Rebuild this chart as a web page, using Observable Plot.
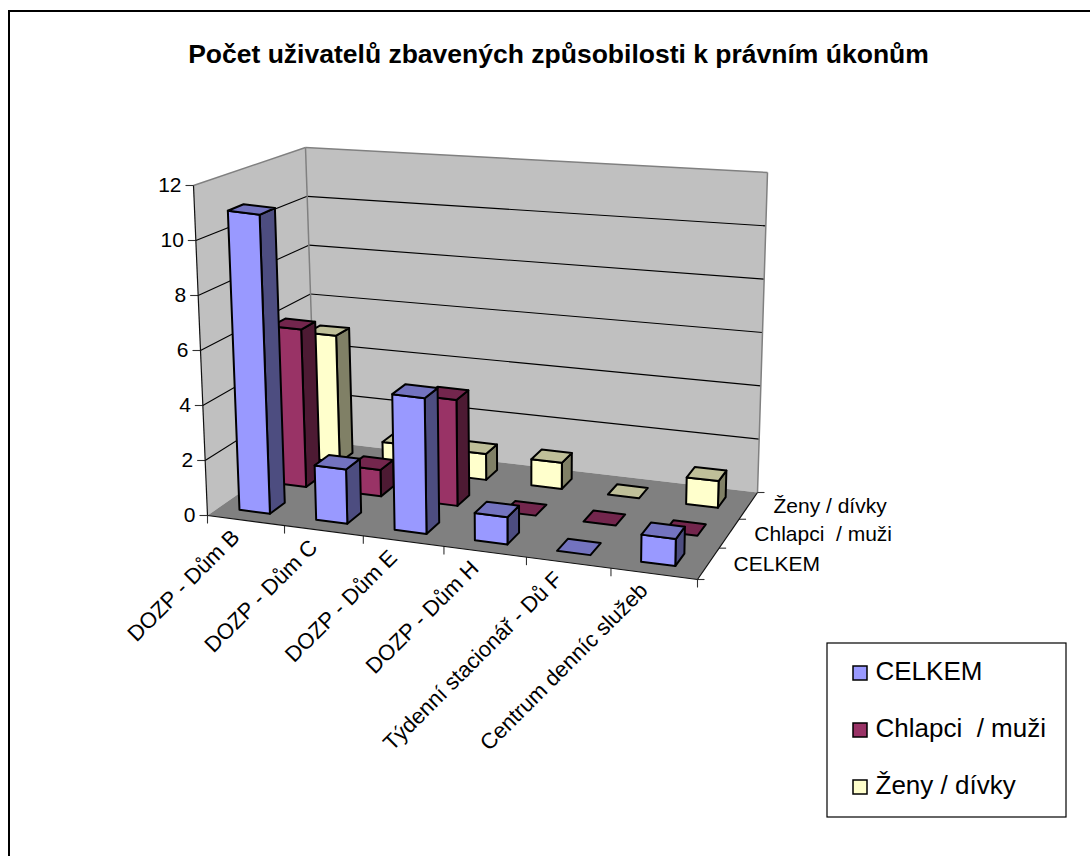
<!DOCTYPE html>
<html><head><meta charset="utf-8">
<style>html,body{margin:0;padding:0;background:#fff;overflow:hidden}svg{display:block}</style>
<script src="https://cdn.jsdelivr.net/npm/d3@7"></script>
<script src="https://cdn.jsdelivr.net/npm/@observablehq/plot@0.6"></script>
</head><body><script>
const title = "Počet uživatelů zbavených způsobilosti k právním úkonům";
const categories = ["DOZP - Dům B","DOZP - Dům C","DOZP - Dům E","DOZP - Dům H","Týdenní stacionář - Dů F","Centrum denníc služeb"];
const seriesNames = ["CELKEM","Chlapci  / muži","Ženy / dívky"];
const celkem = [11,2,5,1,0,1];
const chlapci = [6,1,4,0,0,0];
const zeny = [5,1,1,1,0,1];
const seriesValues = [celkem,chlapci,zeny];
const valueTicks = [0,2,4,6,8,10,12];
const faceColors = ["#9999FF","#993366","#FFFFCC"];
const sideColors = ["#4D4D80","#4D1A33","#808066"];
const topColors  = ["#7373BF","#73264D","#BFBF99"];

// Perspective of the 3-D box: floor corners on screen and the full-height vector at each corner
const floorQuad = [[207,515],[697,579],[757,492],[315,440]];
const riseQuad  = [[-14,-330],[7,-325],[10,-320],[-10,-293]];
function homography(q){
  const [[x0,y0],[x1,y1],[x2,y2],[x3,y3]] = q;
  const dx1=x1-x2,dx2=x3-x2,dx3=x0-x1+x2-x3,dy1=y1-y2,dy2=y3-y2,dy3=y0-y1+y2-y3;
  const det=dx1*dy2-dx2*dy1;
  const g=(dx3*dy2-dx2*dy3)/det,h=(dx1*dy3-dx3*dy1)/det;
  const a=x1-x0+g*x1,b=x3-x0+h*x3,c=x0,d=y1-y0+g*y1,e=y3-y0+h*y3,f=y0;
  return (s,t)=>{const w=g*s+h*t+1;return [(a*s+b*t+c)/w,(d*s+e*t+f)/w];};
}
const hFloor=homography(floorQuad);
const nC=categories.length,nS=seriesNames.length,maxV=12;
function P(u,v,w){
  const s=u/nC,t=v/nS,a=hFloor(s,t),k=w/maxV;
  const r=i=>(1-s)*(1-t)*riseQuad[0][i]+s*(1-t)*riseQuad[1][i]+s*t*riseQuad[2][i]+(1-s)*t*riseQuad[3][i];
  return [a[0]+r(0)*k,a[1]+r(1)*k];
}
const polys=[];let pid=0;
function poly(pts,fill){const id=pid++;for(const p of pts){const [x,y]=P(...p);polys.push({id,x,y,fill});}}
const barW=0.4,pad=(1-barW)/2,nudge=0.035;
// back row first, left to right
for(let s=nS-1;s>=0;s--){
  for(let c=0;c<nC;c++){
    const h=seriesValues[s][c],u0=c+pad-nudge,u1=c+1-pad-nudge,v0=s+pad,v1=s+1-pad;
    if(h>0){
      poly([[u1,v0,0],[u1,v1,0],[u1,v1,h],[u1,v0,h]],sideColors[s]);
      poly([[u0,v0,0],[u1,v0,0],[u1,v0,h],[u0,v0,h]],faceColors[s]);
    }
    poly([[u0,v0,h],[u1,v0,h],[u1,v1,h],[u0,v1,h]],topColors[s]);
  }
}
const seg=(a,b)=>{const p=P(...a),q=P(...b);return {x1:p[0],y1:p[1],x2:q[0],y2:q[1]};};
const wallPolys=[];
function wall(pts,fill,id){for(const p of pts){const [x,y]=P(...p);wallPolys.push({id,x,y,fill});}}
wall([[0,0,0],[0,nS,0],[0,nS,maxV],[0,0,maxV]],"#C0C0C0",0);
wall([[0,nS,0],[nC,nS,0],[nC,nS,maxV],[0,nS,maxV]],"#C0C0C0",1);
wall([[0,0,0],[nC,0,0],[nC,nS,0],[0,nS,0]],"#808080",2);
const grid=valueTicks.filter(v=>v>0&&v<maxV).flatMap(v=>[seg([0,0,v],[0,nS,v]),seg([0,nS,v],[nC,nS,v])]);
const wallEdges=[seg([0,0,maxV],[0,nS,maxV]),seg([0,nS,maxV],[nC,nS,maxV]),seg([0,nS,0],[0,nS,maxV]),seg([nC,nS,0],[nC,nS,maxV])];
const axisEdges=[seg([0,0,0],[0,0,maxV]),seg([0,0,0],[nC,0,0]),seg([nC,0,0],[nC,nS,0])];
const off=(s,dx,dy)=>({x1:s.x1,y1:s.y1,x2:s.x1+dx,y2:s.y1+dy});
const ticks=[
  ...valueTicks.map(v=>off(seg([0,0,v],[0,0,v]),-8,0)),
  ...d3.range(nC+1).map(c=>off(seg([c,0,0],[c,0,0]),0,8)),
  ...d3.range(nS+1).map(s=>off(seg([nC,s,0],[nC,s,0]),7,0))
];
const valueLabels=valueTicks.map(v=>{const [x,y]=P(0,0,v);return {x:x-12,y,t:String(v)};});
const catLabels=categories.map((t,c)=>{const [x,y]=P(c+.5,0,0);return {x:x-5,y:y+18,t};});
const serLabels=seriesNames.map((t,s)=>{const [x,y]=P(nC,s+.5,0);return {x:x+25,y:y+1,t};});

const legendBox=[{x1:827,y1:643,x2:1066,y2:817}];
const legendItems=seriesNames.map((t,i)=>({t,fill:faceColors[i],x1:853,x2:867,y1:666+i*57,y2:680+i*57,tx:875,ty:671+i*57}));
const outer=[{x1:9,y1:11,x2:1120,y2:880}];

const font="Liberation Sans, Arial, sans-serif";
const chart=Plot.plot({
  width:1090,height:856,margin:0,
  style:{background:"#fff",fontFamily:font},
  x:{type:"identity",axis:null},y:{type:"identity",axis:null},color:{type:"identity"},
  marks:[
    Plot.rect(outer,{x1:"x1",x2:"x2",y1:"y1",y2:"y2",fill:"#fff",stroke:"#000",strokeWidth:2}),
    Plot.text([title],{x:558,y:54,text:d=>d,fontSize:26.5,fontWeight:"bold",fill:"#000",textAnchor:"middle"}),
    Plot.line(wallPolys,{x:"x",y:"y",z:"id",fill:"fill",stroke:"none",curve:"linear-closed"}),
    Plot.link(grid,{x1:"x1",y1:"y1",x2:"x2",y2:"y2",stroke:"#000",strokeWidth:1.1}),
    Plot.link(wallEdges,{x1:"x1",y1:"y1",x2:"x2",y2:"y2",stroke:"#808080",strokeWidth:1.5}),
    Plot.link(ticks,{x1:"x1",y1:"y1",x2:"x2",y2:"y2",stroke:"#333",strokeWidth:1.1}),
    Plot.link(axisEdges,{x1:"x1",y1:"y1",x2:"x2",y2:"y2",stroke:"#111",strokeWidth:1.2}),
    Plot.line(polys,{x:"x",y:"y",z:"id",fill:"fill",stroke:"#000",strokeWidth:2,strokeLinejoin:"round",curve:"linear-closed"}),
    Plot.text(valueLabels,{x:"x",y:"y",text:"t",fontSize:21,textAnchor:"end",fill:"#000"}),
    Plot.text(catLabels,{x:"x",y:"y",text:"t",fontSize:22,textAnchor:"end",rotate:-45,fill:"#000",lineAnchor:"bottom"}),
    Plot.text(serLabels,{x:"x",y:"y",text:"t",fontSize:21,textAnchor:"start",fill:"#000"}),
    Plot.rect(legendBox,{x1:"x1",x2:"x2",y1:"y1",y2:"y2",fill:"#fff",stroke:"#000",strokeWidth:1.2}),
    Plot.rect(legendItems,{x1:"x1",x2:"x2",y1:"y1",y2:"y2",fill:"fill",stroke:"#000",strokeWidth:1.5}),
    Plot.text(legendItems,{x:"tx",y:"ty",text:"t",fontSize:26,textAnchor:"start",fill:"#000"})
  ]
});
document.body.appendChild(chart);
</script></body></html>
